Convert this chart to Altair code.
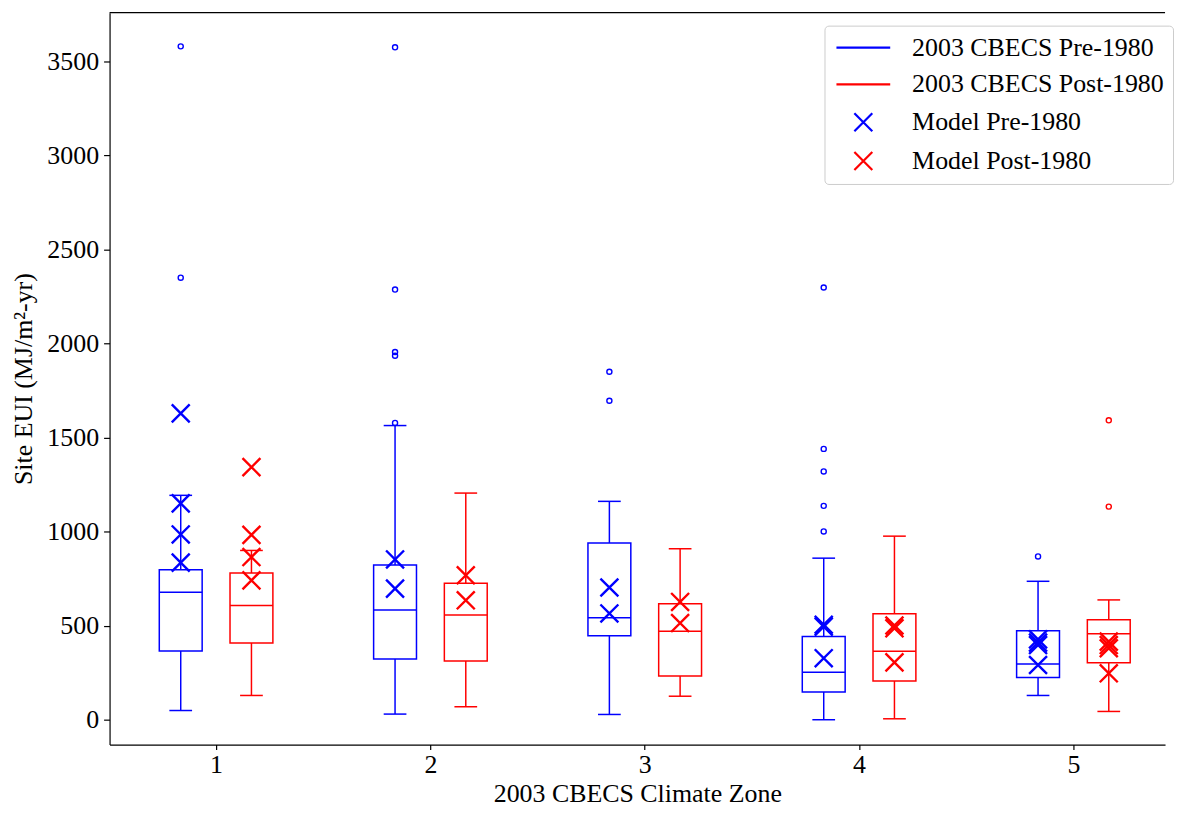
import altair as alt
import pandas as pd

# ---------------- data ----------------
zones = [1, 2, 3, 4, 5]

pre_q1 = [365, 323, 446, 147, 224]
pre_med = [678, 584, 542, 252, 296]
pre_q3 = [798, 822, 939, 443, 473]
pre_lo = [49, 30, 28, 0, 129]
pre_hi = [1193, 1564, 1161, 859, 736]

post_q1 = [408, 312, 233, 206, 303]
post_med = [607, 557, 470, 364, 457]
post_q3 = [780, 725, 616, 563, 531]
post_lo = [129, 69, 125, 5, 44]
post_hi = [900, 1205, 909, 976, 637]

pre_outlier_zone = [1, 1, 2, 2, 2, 2, 2, 3, 3, 4, 4, 4, 4, 4, 5]
pre_outlier_val = [2350, 3580, 1578, 1935, 1955, 2287, 3575, 1696, 1850,
                   1001, 1137, 1320, 1440, 2298, 868]
post_outlier_zone = [5, 5]
post_outlier_val = [1133, 1592]

model_pre_zone = [1, 1, 1, 1, 2, 2, 3, 3, 4, 4, 4, 5, 5, 5, 5]
model_pre_val = [1629, 1150, 985, 835, 852, 697, 703, 565, 505, 495, 327,
                 427, 410, 397, 291]
model_post_zone = [1, 1, 1, 1, 2, 2, 3, 3, 4, 4, 4, 5, 5, 5, 5]
model_post_val = [1343, 983, 865, 741, 768, 635, 626, 514, 501, 486, 305,
                  415, 397, 380, 247]

series = ["2003 CBECS Pre-1980", "2003 CBECS Post-1980",
          "Model Pre-1980", "Model Post-1980"]
y_ticks = [0, 500, 1000, 1500, 2000, 2500, 3000, 3500]

# ---------------- tables ----------------
box_df = pd.concat([
    pd.DataFrame({"zone": zones, "group": "pre", "q1": pre_q1, "med": pre_med,
                  "q3": pre_q3, "lo": pre_lo, "hi": pre_hi}),
    pd.DataFrame({"zone": zones, "group": "post", "q1": post_q1, "med": post_med,
                  "q3": post_q3, "lo": post_lo, "hi": post_hi}),
])
out_df = pd.concat([
    pd.DataFrame({"zone": pre_outlier_zone, "group": "pre", "value": pre_outlier_val}),
    pd.DataFrame({"zone": post_outlier_zone, "group": "post", "value": post_outlier_val}),
])
model_df = pd.concat([
    pd.DataFrame({"zone": model_pre_zone, "group": "pre", "value": model_pre_val,
                  "series": "Model Pre-1980"}),
    pd.DataFrame({"zone": model_post_zone, "group": "post", "value": model_post_val,
                  "series": "Model Post-1980"}),
])

W, H = 1060, 735
FONT = "Liberation Serif"
FS = 26
COLORS = {"pre": "#0000ff", "post": "#ff0000"}

xscale = alt.Scale(domain=[0.503, 5.4275], nice=False, zero=False)
yscale = alt.Scale(domain=[-132, 3759], nice=False, zero=False)
xaxis = alt.Axis(values=zones, format="d", title="2003 CBECS Climate Zone",
                 labelPadding=2, titlePadding=3, tickSize=5, grid=False)
yaxis = alt.Axis(values=y_ticks, format="d", title="Site EUI (MJ/m²-yr)",
                 labelPadding=5, titlePadding=10, tickSize=6, grid=False)


def X(field):
    return alt.X(field, type="quantitative", scale=xscale, axis=xaxis)


def Y(field):
    return alt.Y(field, type="quantitative", scale=yscale, axis=yaxis)


POS = "datum.zone + (datum.group == 'pre' ? -0.165 : 0.165)"

layers = []
for g in ["pre", "post"]:
    c = COLORS[g]
    base = alt.Chart(box_df).transform_filter(f"datum.group == '{g}'").transform_calculate(
        pos=POS).transform_calculate(
        xa="datum.pos - 0.1", xb="datum.pos + 0.1",
        ca="datum.pos - 0.053", cb="datum.pos + 0.053")
    whisker = base.mark_rule(color=c, strokeWidth=1.5).encode(
        x=X("pos"), y=Y("lo"), y2="hi:Q")
    box = base.mark_rect(fill="white", stroke=c, strokeWidth=1.5).encode(
        x=X("xa"), x2="xb:Q", y=Y("q1"), y2="q3:Q")
    med = base.mark_rule(color=c, strokeWidth=1.5).encode(
        x=X("xa"), x2="xb:Q", y=Y("med"))
    cap_lo = base.mark_rule(color=c, strokeWidth=1.5).encode(
        x=X("ca"), x2="cb:Q", y=Y("lo"))
    cap_hi = base.mark_rule(color=c, strokeWidth=1.5).encode(
        x=X("ca"), x2="cb:Q", y=Y("hi"))
    outl = alt.Chart(out_df).transform_filter(f"datum.group == '{g}'").transform_calculate(
        pos=POS).mark_point(shape="circle", filled=False, size=26, strokeWidth=1.4,
                            color=c, opacity=1).encode(x=X("pos"), y=Y("value"))
    layers += [whisker, box, med, cap_lo, cap_hi, outl]

XPATH = "M-1,-1L1,1M-1,1L1,-1"
LPATH = "M-3,0L3,0"
legend = alt.Legend(title=None, orient="none", legendX=718, legendY=13,
                    labelFont=FONT, labelFontSize=FS, labelColor="black",
                    labelLimit=0, labelOffset=36, symbolOffset=17,
                    symbolStrokeWidth=2.2, symbolSize=324,
                    padding=9, rowPadding=11, fillColor="white",
                    strokeColor="#cccccc", cornerRadius=4)
model = alt.Chart(model_df).transform_calculate(pos=POS).mark_point(
    filled=False, strokeWidth=2.4, opacity=1, size=324).encode(
    x=X("pos"), y=Y("value"),
    color=alt.Color("series:N", scale=alt.Scale(
        domain=series, range=["#0000ff", "#ff0000", "#0000ff", "#ff0000"]), legend=legend),
    shape=alt.Shape("series:N", scale=alt.Scale(
        domain=series, range=[LPATH, LPATH, XPATH, XPATH]), legend=legend),
)
layers.append(model)

top_border = alt.Chart(pd.DataFrame({"a": [0]})).mark_rule(
    color="black", strokeWidth=1.2).encode(
    x=alt.value(0), x2=alt.value(W), y=alt.value(0))
layers.append(top_border)

chart = alt.layer(*layers).properties(
    width=W, height=H,
    padding={"left": 3, "top": 2, "right": 0, "bottom": 0},
).configure_view(stroke=None).configure_axis(
    labelFont=FONT, labelFontSize=FS, labelColor="black",
    titleFont=FONT, titleFontSize=FS, titleColor="black", titleFontWeight="normal",
    domainColor="black", domainWidth=1.2, tickColor="black", tickWidth=1.2,
)

chart.save("out.html", embed_options={"renderer": "svg", "actions": False})
